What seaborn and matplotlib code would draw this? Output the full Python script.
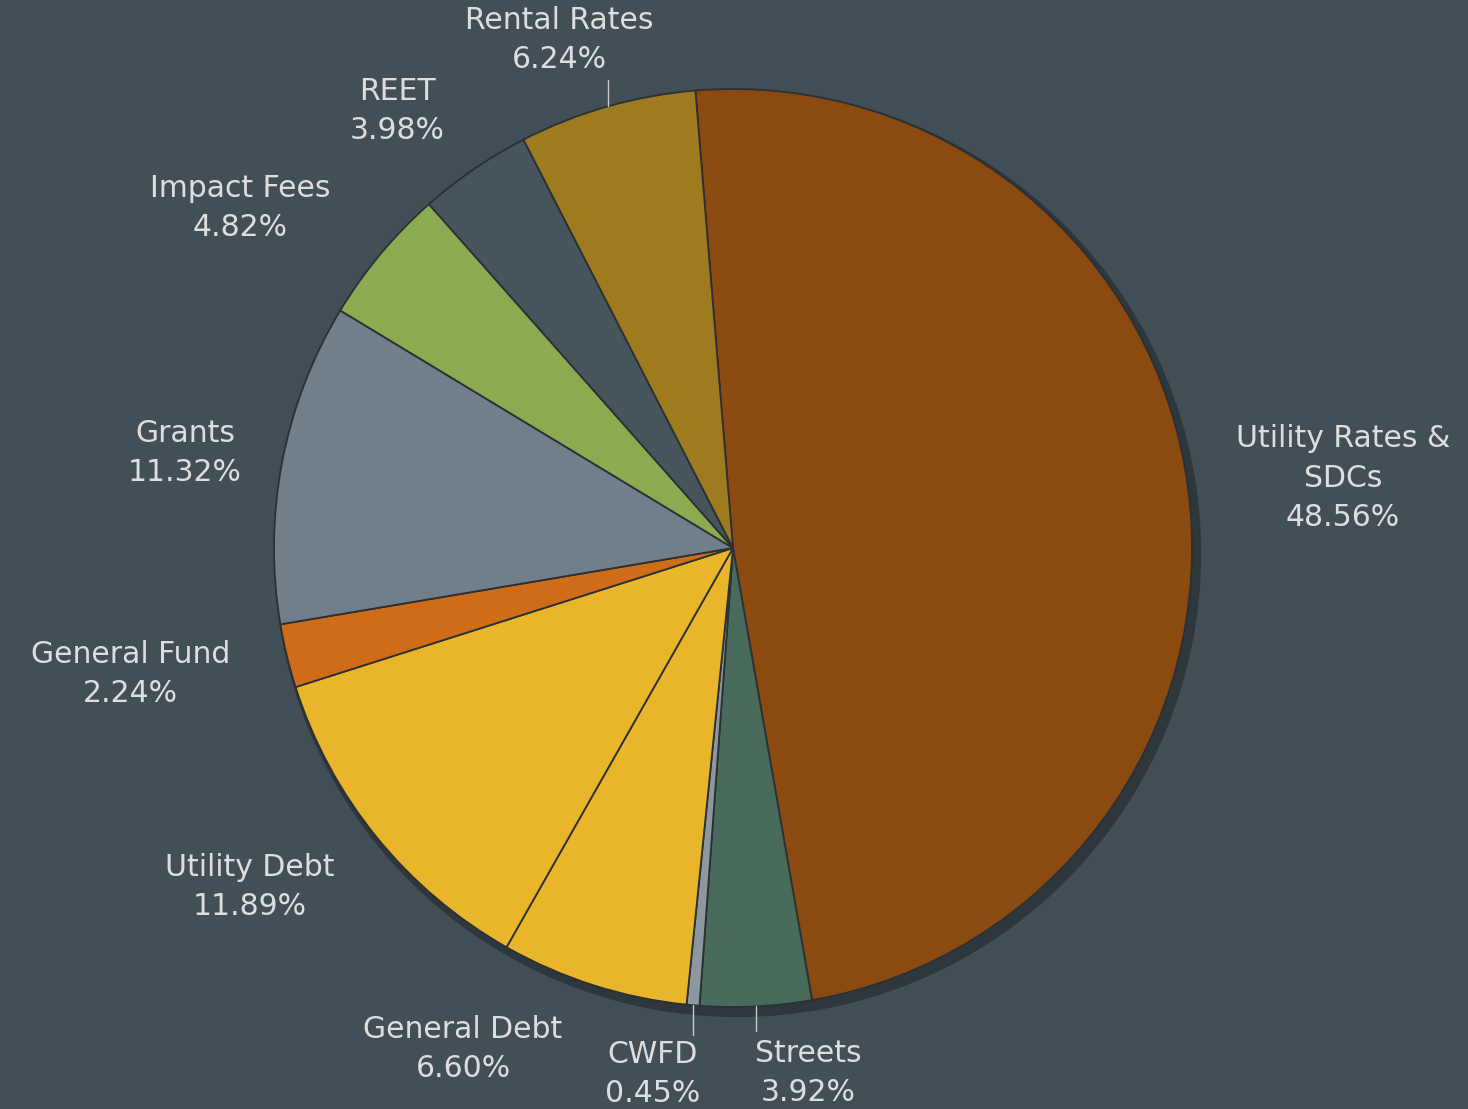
import numpy as np
import seaborn as sns
import matplotlib
matplotlib.use("Agg")
import matplotlib.pyplot as plt
from matplotlib.patches import Circle

sources = ["Utility Rates &\nSDCs", "Streets", "CWFD", "General Debt", "Utility Debt",
           "General Fund", "Grants", "Impact Fees", "REET", "Rental Rates"]
shares = [48.56, 3.92, 0.45, 6.60, 11.89, 2.24, 11.32, 4.82, 3.98, 6.24]
colors = ["#8b4a10", "#476a5a", "#8d979f", "#e9b52b", "#e9b52b",
          "#d06c18", "#707f89", "#8aab4f", "#46545c", "#9e7b1e"]

# label centres (pie radius = 1), and which labels get a leader line
label_pos = [(1.329, 0.152), (0.163, -1.144), (-0.176, -1.146), (-0.588, -1.091),
             (-1.052, -0.739), (-1.312, -0.275), (-1.194, 0.207), (-1.074, 0.741),
             (-0.732, 0.952), (-0.379, 1.107)]
leader_end = {1: -1.052, 2: -1.061, 9: 1.020}

bg = "#434f56"
sns.set_theme(style="white")
plt.rcParams["font.family"] = ["DejaVu Sans"]

fig = plt.figure(figsize=(14.68, 11.09), dpi=100, facecolor=bg)
ax = fig.add_axes([0, 0, 1, 1])
ax.set_facecolor(bg)

ax.add_patch(Circle((0.01, -0.012), 1.01, color="black", alpha=0.3, zorder=0, lw=0))

start = 94.7
wedges, _ = ax.pie(shares, colors=colors, startangle=start, counterclock=False, radius=1,
                   wedgeprops=dict(edgecolor="#2b3034", linewidth=1.3))

cum = np.cumsum([0] + shares)
for i, (name, val) in enumerate(zip(sources, shares)):
    mid = np.deg2rad(start - (cum[i] + val / 2) * 3.6)
    x, y = label_pos[i]
    ax.text(x, y, f"{name}\n{val:.2f}%", ha="center", va="center", color="#dedede",
            fontsize=21.5, linespacing=1.45)
    if i in leader_end:
        ex, ey = np.cos(mid), np.sin(mid)
        ax.plot([ex, ex], [ey, leader_end[i]], color="#c8c8c8", lw=1)

ax.set_xlim(-733 / 459, 735 / 459)
ax.set_ylim(-561 / 459, 548 / 459)
ax.set_aspect("equal")
ax.axis("off")

fig.savefig("out.png", dpi=100, facecolor=bg)
